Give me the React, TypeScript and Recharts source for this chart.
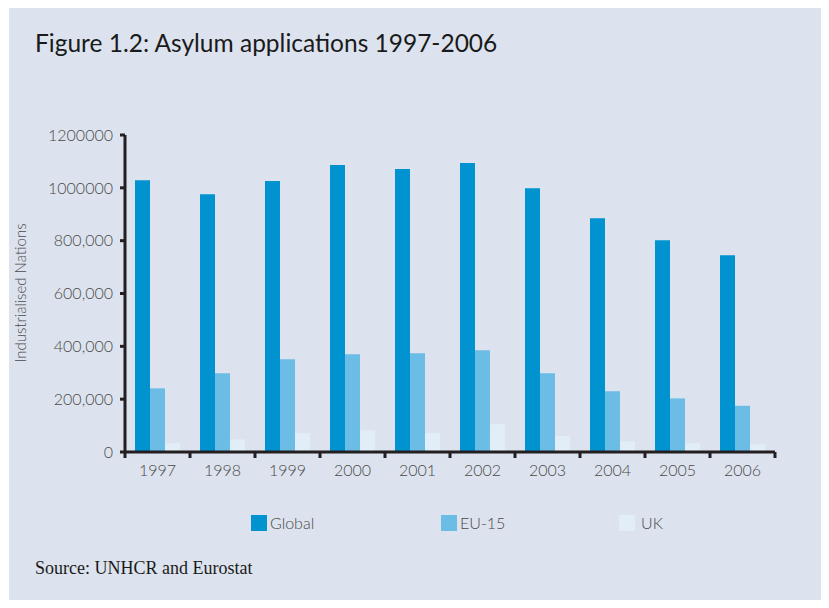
import { BarChart, Bar, XAxis, YAxis } from "recharts";

const years = ["1997", "1998", "1999", "2000", "2001", "2002", "2003", "2004", "2005", "2006"];
const globalApps = [1029000, 976000, 1026000, 1086000, 1071000, 1094000, 998000, 885000, 802000, 745000];
const eu15Apps = [241000, 298000, 351000, 370000, 374000, 385000, 298000, 230000, 203000, 175000];
const ukApps = [33000, 48000, 71000, 82000, 71000, 105000, 60000, 40000, 33000, 29000];
const yTicks = [0, 200000, 400000, 600000, 800000, 1000000, 1200000];
const yTickLabels = ["0", "200,000", "400,000", "600,000", "800,000", "1000000", "1200000"];

const series = [
  { key: "global", name: "Global", color: "#0093d0" },
  { key: "eu15", name: "EU-15", color: "#6bbde6" },
  { key: "uk", name: "UK", color: "#e1eef7" },
];

const data = years.map((year, i) => ({
  year,
  global: globalApps[i],
  eu15: eu15Apps[i],
  uk: ukApps[i],
}));

const AXIS = "#231f20";
const TEXT = "#4a4a4a";
const FONT = "Lato, 'Open Sans', sans-serif";

// plot box: x 125..775, y 135..452
const PLOT_W = 650;

// year label plus the boundary tick marks (ticks sit between categories)
const YearTick = (props: any) => {
  const { x, y, payload, index } = props;
  const band = PLOT_W / years.length;
  return (
    <g>
      <line x1={x - band / 2} x2={x - band / 2} y1={y} y2={y + 6} stroke={AXIS} strokeWidth={3} />
      {index === years.length - 1 && (
        <line x1={x + band / 2} x2={x + band / 2} y1={y} y2={y + 6} stroke={AXIS} strokeWidth={3} />
      )}
      <text x={x} y={y + 24} textAnchor="middle" fill={TEXT} fontSize={16} fontWeight={300} fontFamily={FONT}>
        {payload.value}
      </text>
    </g>
  );
};

export default function App() {
  return (
    <div style={{ position: "relative", width: 829, height: 608, margin: -8, background: "#fff", overflow: "hidden" }}>
      <div style={{ position: "absolute", left: 9, top: 7, width: 813, height: 597, background: "#dce3ee" }} />

      <div
        style={{
          position: "absolute",
          left: 35,
          top: 28,
          fontFamily: FONT,
          fontSize: 24.5,
          color: "#1a1a1a",
          whiteSpace: "nowrap",
        }}
      >
        Figure 1.2: Asylum applications 1997-2006
      </div>

      <div
        style={{
          position: "absolute",
          left: 20,
          top: 293,
          transform: "translate(-50%, -50%) rotate(-90deg)",
          fontFamily: FONT,
          fontSize: 15,
          fontWeight: 300,
          color: TEXT,
          whiteSpace: "nowrap",
        }}
      >
        Industrialised Nations
      </div>

      <div style={{ position: "absolute", left: 0, top: 0 }}>
        <BarChart
          width={829}
          height={608}
          data={data}
          margin={{ top: 135, right: 54, left: 65, bottom: 126 }}
          barCategoryGap={10}
          barGap={0}
        >
          <XAxis
            dataKey="year"
            height={30}
            axisLine={{ stroke: AXIS, strokeWidth: 3 }}
            tickLine={false}
            tickSize={0}
            tickMargin={0}
            tick={<YearTick />}
            interval={0}
          />
          <YAxis
            width={60}
            domain={[0, 1200000]}
            ticks={yTicks}
            interval={0}
            tickFormatter={(v: number) => yTickLabels[yTicks.indexOf(v)]}
            axisLine={{ stroke: AXIS, strokeWidth: 3 }}
            tickLine={{ stroke: AXIS, strokeWidth: 3 }}
            tickSize={5}
            tickMargin={7}
            tick={{ fill: TEXT, fontSize: 16, fontWeight: 300, fontFamily: FONT }}
          />
          {series.map((s) => (
            <Bar key={s.key} dataKey={s.key} name={s.name} fill={s.color} isAnimationActive={false} />
          ))}
        </BarChart>
      </div>

      {series.map((s, i) => (
        <div
          key={s.key}
          style={{
            position: "absolute",
            left: [251, 441, 619][i],
            top: 513,
            display: "flex",
            alignItems: "center",
            fontFamily: FONT,
            fontSize: 16,
            fontWeight: 300,
            color: TEXT,
          }}
        >
          <span style={{ width: 16, height: 16, background: s.color, display: "inline-block", marginRight: i === 2 ? 6 : 3 }} />
          {s.name}
        </div>
      ))}

      <div
        style={{
          position: "absolute",
          left: 35,
          top: 558,
          fontFamily: "'Liberation Serif', serif",
          fontSize: 18,
          color: "#1a1a1a",
          whiteSpace: "nowrap",
        }}
      >
        Source: UNHCR and Eurostat
      </div>
    </div>
  );
}
